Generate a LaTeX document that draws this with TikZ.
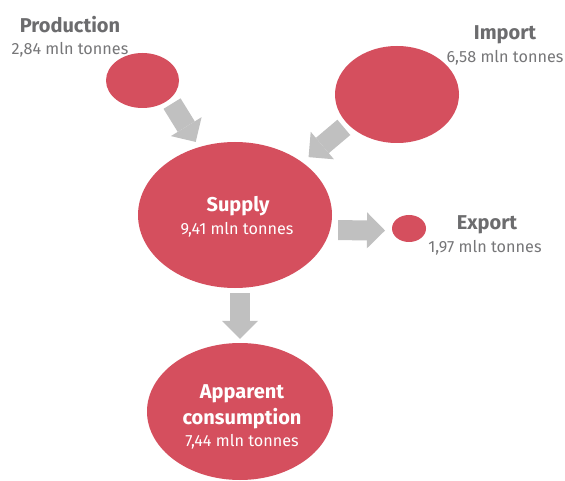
\documentclass[tikz,border=0pt]{standalone}
\usepackage{fontspec}
\setmainfont{Fira Sans}
\usepackage{xcolor}
\usetikzlibrary{shapes.geometric, arrows.meta, positioning}

\definecolor{flowred}{RGB}{213,79,94}
\definecolor{flowgray}{RGB}{192,192,192}
\definecolor{titlegray}{RGB}{108,108,110}
\definecolor{amountgray}{RGB}{118,118,120}

\begin{document}
\begin{tikzpicture}[
    x=1pt, y=-1pt,
    % Node styles
    blob/.style={ellipse, fill=flowred, inner sep=0pt},
    title/.style={font=\fontsize{20}{22}\selectfont\bfseries, text=titlegray, inner sep=0pt, anchor=base},
    amount/.style={font=\fontsize{16.2}{18}\selectfont, text=amountgray, inner sep=0pt, anchor=base},
    intitle/.style={title, text=white},
    inamount/.style={amount, text=white},
    flow/.style={draw=flowgray, line width=20pt, -{Triangle[length=18pt, width=36pt, line width=0pt]}}
]

% canvas
\fill[white] (0,0) rectangle (565,481);
\useasboundingbox (0,0) rectangle (565,481);

% ========== Flows (ellipses) ==========
\node[blob, minimum width=73pt, minimum height=55pt] (prod) at (142.5, 80.5) {};
\node[blob, minimum width=124pt, minimum height=97pt] (import) at (397, 94.5) {};
\node[blob, minimum width=194pt, minimum height=146pt] (supply) at (235, 215) {};
\node[blob, minimum width=34pt, minimum height=27pt] (export) at (409, 228.5) {};
\node[blob, minimum width=186pt, minimum height=137pt] (app) at (240, 411.5) {};

% ========== Labels ==========
\node[title] (prodtitle) at (70, 33) {Production};
\node[amount] (prodamount) at ([yshift=-22pt]prodtitle.base) {2,84 mln tonnes};

\node[title] (importtitle) at (505, 40) {Import};
\node[amount] (importamount) at ([yshift=-22.5pt]importtitle.base) {6,58 mln tonnes};

\node[title] (exporttitle) at (487, 230) {Export};
\node[amount] (exportamount) at ([xshift=-2pt, yshift=-23pt]exporttitle.base) {1,97 mln tonnes};

\node[intitle] (supplytitle) at (238, 211.5) {Supply};
\node[inamount] (supplyamount) at ([xshift=-1pt, yshift=-23.5pt]supplytitle.base) {9,41 mln tonnes};

\node[intitle] (apptitle) at (242, 398.5) {Apparent};
\node[intitle] (appsub) at ([yshift=-25.5pt]apptitle.base) {consumption};
\node[inamount] (appamount) at ([yshift=-22.5pt]appsub.base) {7,44 mln tonnes};

% ========== Arrows ==========
\draw[flow, shorten <=5pt, shorten >=6pt] (prod.-35) -- (supply.118);
\draw[flow, shorten <=5pt, shorten >=8pt] (import.211) -- (supply.38);
\draw[flow, shorten <=8pt, shorten >=7pt] (supply.-9) -- (export.187);
\draw[flow, shorten <=5pt, shorten >=4pt] (supply.south -| app.north) -- (app.north);

\end{tikzpicture}
\end{document}
